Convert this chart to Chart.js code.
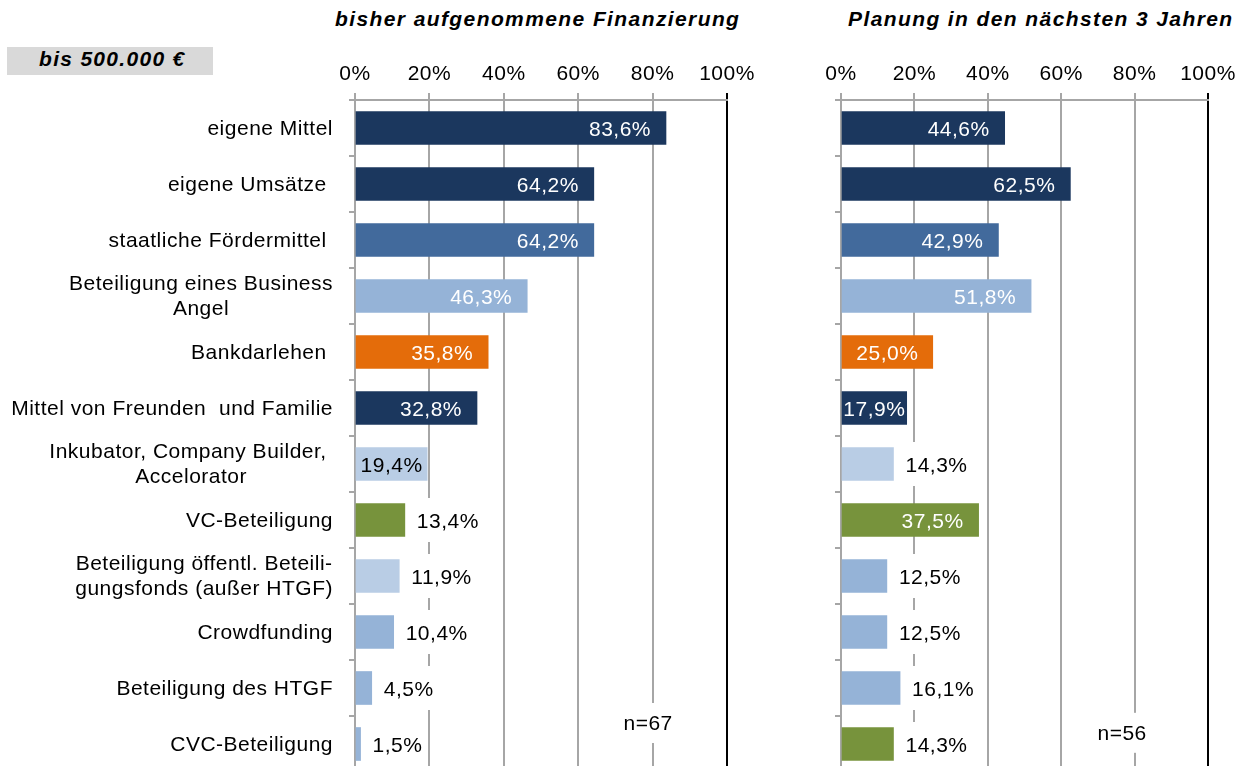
<!DOCTYPE html>
<html lang="de">
<head>
<meta charset="utf-8">
<title>Finanzierung bis 500.000 €</title>
<script src="https://cdn.jsdelivr.net/npm/chart.js@4.4.1/dist/chart.umd.min.js"></script>
<style>
    html, body { margin: 0; padding: 0; overflow: hidden; background: #fff; }
    body { width: 1243px; height: 766px; position: relative; font-family: "Liberation Sans", Arial, sans-serif; }
    canvas { position: absolute; top: 0; }
    #left-chart { left: 0; }
    #right-chart { left: 760px; }
    .title { position: absolute; top: 7px; font-size: 21px; line-height: 24px; font-weight: bold; font-style: italic; letter-spacing: 1.4px; white-space: nowrap; color: #000; }
    #group-box { position: absolute; left: 7px; top: 47px; width: 174px; height: 28px; padding-left: 32px; background: #d9d9d9; font-size: 21px; line-height: 24px; font-weight: bold; font-style: italic; letter-spacing: 1.3px; white-space: nowrap; }
</style>
</head>
<body>
<div id="group-box">bis 500.000 €</div>
<div class="title" style="left:335px">bisher aufgenommene Finanzierung</div>
<div class="title" style="left:848px">Planung in den nächsten 3 Jahren</div>
<canvas id="left-chart" width="760" height="775"></canvas>
<canvas id="right-chart" width="483" height="775"></canvas>
<script>
// categories (multi-line labels as arrays)
const categories = [
    ["eigene Mittel"],
    ["eigene Umsätze "],
    ["staatliche Fördermittel "],
    ["Beteiligung eines Business", "Angel"],
    ["Bankdarlehen "],
    ["Mittel von Freunden  und Familie"],
    ["Inkubator, Company Builder, ", "Accelorator"],
    ["VC-Beteiligung"],
    ["Beteiligung öffentl. Beteili-", "gungsfonds (außer HTGF)"],
    ["Crowdfunding"],
    ["Beteiligung des HTGF"],
    ["CVC-Beteiligung"]
];
const bisherValues = [83.6, 64.2, 64.2, 46.3, 35.8, 32.8, 19.4, 13.4, 11.9, 10.4, 4.5, 1.5];
const planungValues = [44.6, 62.5, 42.9, 51.8, 25.0, 17.9, 14.3, 37.5, 12.5, 12.5, 16.1, 14.3];
const xTicks = [0, 20, 40, 60, 80, 100];
const sampleSizes = ["n=67", "n=56"];

const NAVY = "#1b375e", MID = "#426a9c", LIGHT = "#95b3d7", PALE = "#b9cde5", ORANGE = "#e46c0a", GREEN = "#77933c";
const leftColors = [NAVY, NAVY, MID, LIGHT, ORANGE, NAVY, PALE, GREEN, PALE, LIGHT, LIGHT, LIGHT];
const rightColors = [NAVY, NAVY, MID, LIGHT, ORANGE, NAVY, PALE, GREEN, LIGHT, LIGHT, LIGHT, GREEN];

const FONT = '"Liberation Sans", Arial, sans-serif';
const GRID = "#a6a6a6";
const SPACING = '0.5px';

const letterSpacing = {
    id: 'letterSpacing',
    beforeDraw(chart) { chart.ctx.letterSpacing = SPACING; }
};

const valueLabels = {
    id: 'valueLabels',
    afterDatasetsDraw(chart) {
        const ctx = chart.ctx;
        const ds = chart.data.datasets[0];
        const meta = chart.getDatasetMeta(0);
        ctx.save();
        ctx.letterSpacing = SPACING;
        ctx.font = '21px ' + FONT;
        ctx.textBaseline = 'middle';
        meta.data.forEach((bar, i) => {
            const v = ds.data[i];
            const txt = v.toFixed(1).replace('.', ',') + '%';
            const w = ctx.measureText(txt).width;
            const len = bar.x - bar.base;
            if (v >= 17) {
                const inset = Math.min(15, (len - w) / 2);
                ctx.fillStyle = ds.backgroundColor[i] === PALE ? '#000' : '#fff';
                ctx.textAlign = 'right';
                ctx.fillText(txt, bar.x - inset, bar.y + 2);
            } else {
                const x0 = bar.x + 12;
                ctx.fillStyle = '#fff';
                ctx.fillRect(x0 - 3, bar.y - 22, w + 6, 44);
                ctx.fillStyle = '#000';
                ctx.textAlign = 'left';
                ctx.fillText(txt, x0, bar.y + 2);
            }
        });
        ctx.restore();
    }
};

// sample size note, white box over the grid
const sampleNote = {
    id: 'sampleNote',
    afterDatasetsDraw(chart, args, opts) {
        const ctx = chart.ctx;
        const x = chart.scales.x.getPixelForValue(opts.x);
        const y = chart.scales.y.getPixelForValue(opts.y);
        ctx.save();
        ctx.letterSpacing = SPACING;
        ctx.font = '21px ' + FONT;
        const w = ctx.measureText(opts.text).width;
        ctx.fillStyle = '#fff';
        ctx.fillRect(x - w / 2 - 4, y - 20, w + 8, 40);
        ctx.fillStyle = '#000';
        ctx.textAlign = 'center';
        ctx.textBaseline = 'middle';
        ctx.fillText(opts.text, x, y + 1);
        ctx.restore();
    }
};

// category labels: block right-aligned, lines centered inside the block
const categoryLabels = {
    id: 'categoryLabels',
    afterDraw(chart, args, opts) {
        if (!opts.show) return;
        const ctx = chart.ctx;
        const yScale = chart.scales.y;
        const right = yScale.right - 22;
        ctx.save();
        ctx.letterSpacing = SPACING;
        ctx.font = '21px ' + FONT;
        ctx.fillStyle = '#000';
        ctx.textAlign = 'center';
        ctx.textBaseline = 'middle';
        categories.forEach((lines, i) => {
            const y = yScale.getPixelForValue(i);
            const blockW = Math.max(...lines.map(l => ctx.measureText(l).width));
            const cx = right - blockW / 2;
            const top = y - (lines.length - 1) * 25 / 2;
            lines.forEach((l, k) => ctx.fillText(l, cx, top + k * 25 + 1));
        });
        ctx.restore();
    }
};

function makeChart(id, values, colors, yWidth, padRight, showCats, note) {
    return new Chart(document.getElementById(id), {
        type: 'bar',
        data: {
            labels: categories.map(c => c.join(' ')),
            datasets: [{
                data: values,
                backgroundColor: colors,
                borderWidth: 0,
                barThickness: 33
            }]
        },
        options: {
            indexAxis: 'y',
            responsive: false,
            animation: false,
            devicePixelRatio: 1,
            layout: { padding: { top: 0, right: padRight, bottom: 3, left: 0 } },
            plugins: {
                legend: { display: false },
                title: { display: false },
                tooltip: { enabled: false },
                categoryLabels: { show: showCats },
                sampleNote: note
            },
            scales: {
                x: {
                    position: 'top',
                    min: 0,
                    max: 100,
                    afterBuildTicks: scale => { scale.ticks = xTicks.map(v => ({ value: v })); },
                    afterFit: scale => { scale.height = 100; },
                    ticks: {
                        color: '#000',
                        font: { size: 21, family: FONT },
                        padding: 6,
                        callback: v => v + '%'
                    },
                    grid: {
                        color: c => (c.tick && c.tick.value === 100) ? '#000' : GRID,
                        lineWidth: 2,
                        tickLength: 7,
                        drawTicks: true
                    },
                    border: { display: true, color: GRID, width: 2 }
                },
                y: {
                    afterFit: scale => { scale.width = yWidth; },
                    ticks: { display: false },
                    grid: {
                        display: true,
                        drawOnChartArea: false,
                        drawTicks: true,
                        tickLength: 6,
                        offset: true,
                        color: GRID,
                        lineWidth: 2
                    },
                    border: { display: true, color: GRID, width: 2 }
                }
            }
        },
        plugins: [letterSpacing, valueLabels, sampleNote, categoryLabels]
    });
}

makeChart('left-chart', bisherValues, leftColors, 355, 33, true, { text: sampleSizes[0], x: 78.8, y: 10.625 });
makeChart('right-chart', planungValues, rightColors, 81, 35, false, { text: sampleSizes[1], x: 76.6, y: 10.8 });
</script>
</body>
</html>
